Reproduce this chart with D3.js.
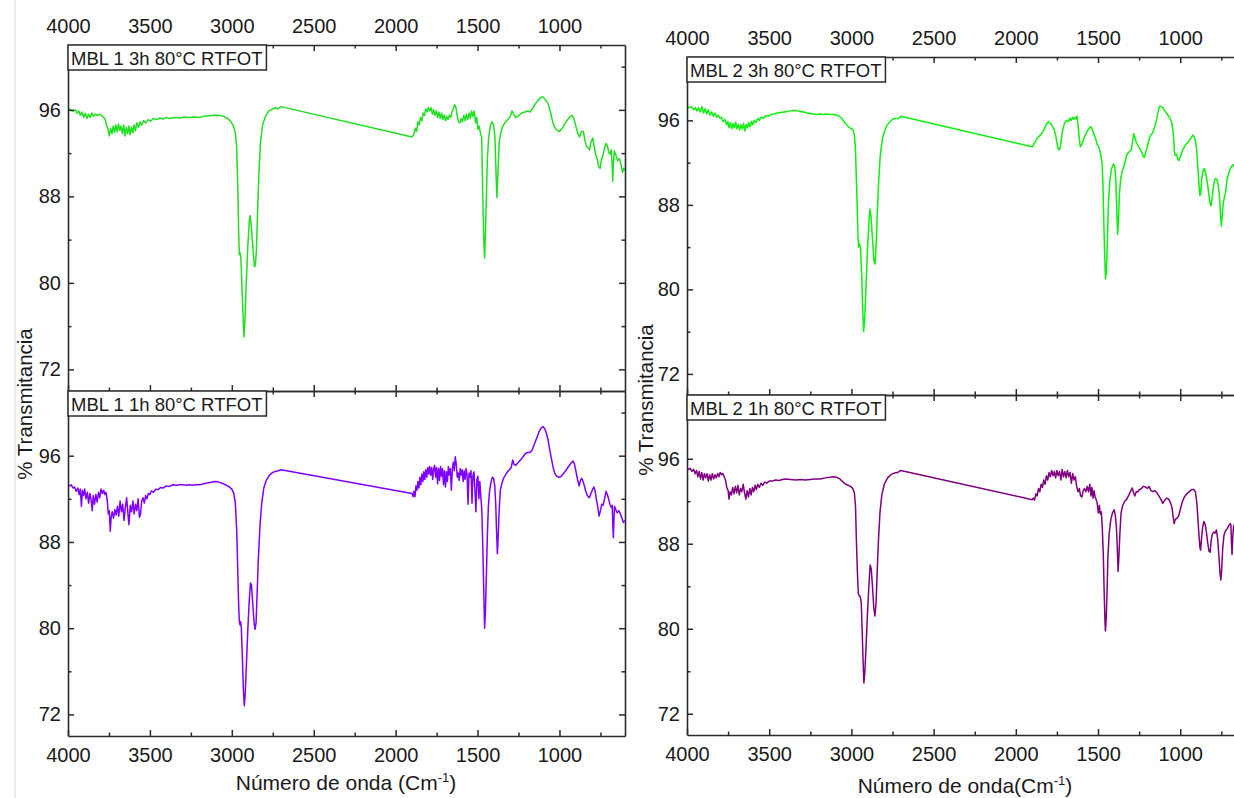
<!DOCTYPE html>
<html>
<head>
<meta charset="utf-8">
<script src="https://cdn.jsdelivr.net/npm/d3@7"></script>
<style>
  body { margin: 0; background: #fff; }
  text { font-family: "Liberation Sans", Arial, sans-serif; fill: #1a1a1a; }
</style>
</head>
<body>
<svg id="graph" width="1234" height="798"></svg>
<script>
// ---- data: [wavenumber, % transmittance] ----
const mbl1_3h = [
  [4000,96.1],[3985,96.0],[3970,95.9],[3955,96.0],[3945,95.7],[3935,95.9],[3925,95.5],[3915,95.8],[3905,95.3],[3895,95.7],
  [3885,95.2],[3875,95.6],[3865,95.3],[3855,95.7],[3845,95.4],[3835,95.6],[3820,95.5],[3805,95.6],[3790,95.4],[3775,95.2],
  [3765,94.6],[3755,94.2],[3748,93.6],[3740,94.3],[3732,93.8],[3724,94.5],[3716,93.9],[3708,94.6],[3700,94.0],[3692,94.7],
  [3684,94.1],[3676,94.5],[3668,93.8],[3660,94.6],[3652,93.6],[3644,94.4],[3636,93.8],[3628,94.5],[3620,93.7],[3612,94.4],
  [3604,93.9],[3596,94.6],[3588,94.1],[3580,94.8],[3570,94.4],[3560,94.9],[3550,94.6],[3540,95.0],[3525,94.8],[3510,95.1],
  [3495,94.95],[3480,95.2],[3460,95.1],[3440,95.25],[3420,95.15],[3400,95.3],[3380,95.2],[3350,95.3],[3320,95.25],[3290,95.35],
  [3260,95.3],[3230,95.35],[3200,95.3],[3170,95.4],[3140,95.45],[3110,95.5],[3080,95.5],[3050,95.4],[3025,95.2],[3005,94.9],
  [2990,94.5],[2978,93.8],[2970,92.5],[2964,89.0],[2958,84.5],[2954,82.6],[2950,82.8],[2945,82.4],[2940,80.5],[2933,77.5],
  [2926,75.0],[2920,76.5],[2912,80.0],[2902,83.5],[2893,85.8],[2888,86.2],[2880,85.0],[2870,83.0],[2862,81.5],[2856,81.6],
  [2850,83.0],[2843,86.5],[2835,90.0],[2825,93.0],[2812,94.6],[2795,95.4],[2775,95.9],[2750,96.1],[2730,96.2],[2720,96.1],
  [2700,96.3],[1900,93.5],[1890,93.7],[1880,94.3],[1872,94.0],[1864,94.9],[1856,94.6],[1848,95.3],[1840,95.0],[1832,95.7],
  [1824,95.5],[1816,96.1],[1808,95.8],[1800,96.2],[1792,95.9],[1784,96.2],[1776,95.6],[1768,96.0],[1760,95.5],[1752,95.9],
  [1744,95.3],[1736,95.8],[1728,95.2],[1720,95.7],[1712,95.1],[1704,95.5],[1696,95.0],[1688,95.4],[1680,95.1],[1672,95.5],
  [1664,95.3],[1656,95.8],[1648,96.1],[1640,96.5],[1632,96.2],[1624,95.4],[1616,94.9],[1608,94.8],[1600,95.2],[1592,94.9],
  [1584,95.5],[1576,95.0],[1568,95.6],[1560,95.1],[1552,95.7],[1544,95.2],[1536,95.9],[1528,95.4],[1520,95.9],[1512,94.8],
  [1505,95.3],[1498,94.2],[1490,94.5],[1482,93.8],[1475,93.5],[1468,88.0],[1462,84.0],[1457,82.3],[1452,84.5],[1446,88.0],
  [1440,91.5],[1432,93.5],[1422,94.5],[1412,94.9],[1402,94.6],[1394,93.5],[1388,90.5],[1382,87.9],[1376,90.0],[1368,93.0],
  [1358,93.9],[1345,94.5],[1330,94.9],[1315,95.1],[1300,95.4],[1290,95.9],[1280,95.6],[1268,95.3],[1255,95.4],[1240,95.6],
  [1225,95.75],[1210,95.8],[1193,95.9],[1180,95.8],[1165,96.1],[1150,96.5],[1130,96.9],[1110,97.2],[1100,97.2],[1085,96.9],
  [1070,96.6],[1055,95.8],[1040,94.8],[1030,94.4],[1015,94.1],[1000,94.0],[980,94.4],[960,94.9],[940,95.3],[923,95.5],
  [912,95.2],[900,94.5],[888,93.8],[878,93.5],[866,94.0],[854,94.0],[845,93.2],[835,92.6],[825,92.5],[817,92.3],
  [808,93.0],[797,93.4],[788,92.6],[778,91.8],[770,91.5],[762,90.8],[752,90.6],[744,91.4],[736,91.7],[726,92.4],
  [715,92.9],[706,92.6],[698,92.0],[690,91.9],[684,92.3],[679,91.2],[675,89.4],[671,91.0],[665,92.2],[655,91.8],
  [645,91.3],[634,91.5],[625,91.0],[615,90.2],[608,90.6],[600,90.4]
];

const mbl2_3h = [
  [4000,97.3],[3985,97.2],[3972,97.3],[3960,97.0],[3950,97.2],[3940,96.9],[3930,97.2],[3920,96.8],[3910,97.3],[3900,96.7],
  [3890,97.1],[3880,96.6],[3870,97.0],[3860,96.5],[3850,96.8],[3840,96.4],[3830,96.7],[3820,96.3],[3810,96.5],[3800,96.2],
  [3790,96.3],[3780,95.9],[3770,96.1],[3760,95.6],[3752,95.9],[3744,95.3],[3736,95.8],[3728,95.2],[3720,95.7],[3712,95.3],
  [3704,95.8],[3696,95.2],[3688,95.6],[3680,95.1],[3672,95.6],[3664,95.2],[3656,95.7],[3648,95.0],[3640,95.6],[3632,95.3],
  [3624,95.8],[3616,95.4],[3608,95.9],[3600,95.6],[3590,96.0],[3580,95.8],[3570,96.2],[3560,96.0],[3550,96.3],[3535,96.2],
  [3520,96.45],[3505,96.4],[3490,96.55],[3470,96.6],[3450,96.7],[3430,96.75],[3410,96.8],[3390,96.85],[3370,96.9],[3350,96.95],
  [3330,96.9],[3310,96.85],[3290,96.8],[3270,96.7],[3250,96.65],[3230,96.6],[3210,96.55],[3190,96.6],[3170,96.55],[3150,96.6],
  [3130,96.55],[3110,96.55],[3090,96.5],[3075,96.4],[3060,96.2],[3045,95.9],[3030,95.6],[3015,95.35],[3000,95.2],[2990,95.1],
  [2982,94.6],[2976,93.5],[2970,90.5],[2965,88.0],[2960,85.0],[2956,84.0],[2950,84.3],[2944,83.8],[2938,81.5],[2932,78.5],
  [2926,76.0],[2920,77.0],[2912,80.0],[2903,83.5],[2895,86.0],[2887,87.6],[2880,86.8],[2872,84.8],[2863,82.7],[2856,82.4],
  [2850,84.0],[2843,87.0],[2835,90.0],[2825,92.6],[2812,94.2],[2800,94.9],[2785,95.5],[2770,95.8],[2750,96.1],[2730,96.2],
  [2715,96.15],[2700,96.4],[1900,93.5],[1885,93.9],[1870,94.3],[1858,94.5],[1845,94.7],[1830,95.1],[1815,95.6],[1805,95.85],
  [1790,95.75],[1780,95.5],[1768,95.2],[1758,94.6],[1750,93.9],[1742,93.3],[1735,93.2],[1728,93.6],[1720,94.6],[1712,95.3],
  [1704,95.7],[1696,95.9],[1688,96.0],[1680,95.9],[1672,96.2],[1664,96.0],[1656,96.3],[1648,96.1],[1640,96.3],[1632,96.1],
  [1628,96.4],[1622,95.6],[1616,94.6],[1608,93.5],[1600,93.7],[1590,94.1],[1578,94.6],[1565,95.0],[1552,95.3],[1543,95.4],
  [1535,95.1],[1525,94.7],[1515,94.3],[1505,93.7],[1498,93.6],[1490,93.2],[1482,92.6],[1476,92.1],[1470,90.0],[1465,86.5],
  [1460,83.5],[1455,81.0],[1450,81.5],[1444,84.0],[1437,88.0],[1428,90.3],[1418,91.4],[1406,91.9],[1398,91.6],[1392,90.5],
  [1386,87.5],[1381,85.2],[1376,86.5],[1370,89.0],[1362,90.5],[1352,91.2],[1340,91.8],[1326,92.7],[1312,93.0],[1298,93.2],
  [1290,94.0],[1283,94.75],[1275,94.3],[1265,93.8],[1255,93.6],[1245,93.3],[1235,93.0],[1225,92.6],[1218,92.5],[1210,93.0],
  [1200,93.5],[1190,94.2],[1180,94.6],[1168,94.8],[1155,95.4],[1145,96.0],[1135,96.8],[1125,97.35],[1115,97.3],[1105,97.2],
  [1095,96.95],[1080,96.6],[1065,96.3],[1052,95.8],[1042,94.8],[1035,93.0],[1030,92.7],[1022,92.8],[1014,92.3],[1008,92.2],
  [998,92.6],[985,93.2],[969,93.65],[955,93.9],[940,94.2],[928,94.5],[922,94.6],[914,94.4],[908,94.1],[900,93.2],
  [893,91.5],[886,90.0],[880,88.9],[876,89.0],[870,90.3],[862,91.2],[853,91.45],[845,91.0],[836,90.2],[826,89.0],
  [818,88.1],[813,87.9],[806,88.6],[798,89.8],[790,90.4],[784,90.5],[776,90.4],[768,89.8],[760,88.5],[754,86.8],
  [750,86.0],[745,86.9],[738,88.2],[730,88.8],[724,89.2],[715,90.4],[705,91.0],[695,91.45],[685,91.7],[675,91.8],
  [668,91.3],[660,90.6],[645,90.9],[625,91.2],[600,91.0]
];

const mbl1_1h = [
  [4000,93.3],[3990,93.2],[3980,93.3],[3970,93.0],[3960,93.1],[3950,92.7],[3940,93.0],[3932,92.4],[3925,92.9],[3918,91.3],
  [3912,92.8],[3905,92.3],[3898,92.9],[3890,92.0],[3882,92.6],[3874,91.6],[3866,92.5],[3858,91.8],[3852,90.9],[3846,92.3],
  [3838,91.5],[3830,92.4],[3822,91.7],[3814,92.6],[3806,92.1],[3798,92.9],[3790,92.5],[3782,92.8],[3775,92.4],[3768,92.6],
  [3760,91.8],[3754,90.6],[3748,90.9],[3742,89.0],[3736,90.4],[3730,90.8],[3722,90.2],[3714,91.0],[3706,90.5],[3698,91.3],
  [3690,90.4],[3682,91.8],[3674,90.8],[3666,91.5],[3658,90.0],[3650,91.2],[3642,92.1],[3634,90.6],[3628,89.6],[3620,91.4],
  [3612,90.8],[3604,91.8],[3596,90.6],[3588,91.5],[3580,90.9],[3572,92.0],[3564,90.3],[3558,90.5],[3550,91.8],[3542,92.1],
  [3534,91.6],[3526,92.3],[3518,92.0],[3510,92.5],[3500,92.4],[3490,92.75],[3478,92.6],[3465,92.9],[3450,92.85],[3435,93.05],
  [3420,93.0],[3400,93.2],[3380,93.15],[3360,93.3],[3340,93.25],[3320,93.3],[3300,93.3],[3280,93.25],[3260,93.3],[3240,93.25],
  [3220,93.3],[3200,93.3],[3180,93.35],[3160,93.45],[3140,93.5],[3120,93.55],[3100,93.6],[3080,93.55],[3060,93.45],[3040,93.3],
  [3020,93.15],[3000,92.9],[2988,92.5],[2978,91.5],[2970,89.0],[2964,85.5],[2958,82.0],[2954,80.6],[2950,80.3],[2946,80.6],
  [2942,80.0],[2936,77.5],[2930,74.5],[2924,72.8],[2918,74.0],[2910,77.0],[2902,80.0],[2894,82.5],[2886,84.2],[2880,84.0],
  [2872,82.2],[2864,80.5],[2858,79.9],[2852,80.5],[2846,83.0],[2838,86.5],[2828,89.5],[2818,91.5],[2805,93.0],[2790,93.7],
  [2770,94.2],[2750,94.45],[2730,94.55],[2715,94.6],[2700,94.7],[1900,92.5],[1893,92.2],[1888,92.7],[1882,92.2],[1876,93.2],
  [1870,92.8],[1864,93.6],[1858,93.0],[1852,94.0],[1846,93.3],[1840,94.3],[1834,93.6],[1828,94.5],[1822,93.8],[1816,94.7],
  [1810,94.0],[1804,94.9],[1798,94.3],[1792,95.0],[1786,94.2],[1780,94.9],[1774,93.8],[1768,94.8],[1762,95.1],[1756,94.0],
  [1750,94.9],[1744,93.4],[1738,94.8],[1732,93.7],[1726,95.0],[1720,94.1],[1714,94.8],[1708,93.3],[1702,94.6],[1696,93.1],
  [1690,94.5],[1684,93.6],[1678,95.0],[1672,94.2],[1666,94.8],[1660,92.8],[1654,94.7],[1648,95.4],[1642,94.6],[1636,95.9],
  [1630,95.2],[1624,94.0],[1618,94.4],[1612,93.7],[1606,94.8],[1600,94.2],[1594,94.7],[1588,93.6],[1582,94.6],[1576,93.8],
  [1570,94.8],[1564,94.2],[1558,91.5],[1552,94.4],[1546,94.0],[1540,94.6],[1534,91.6],[1528,94.2],[1522,94.5],[1516,92.8],
  [1510,90.8],[1504,93.8],[1498,94.1],[1492,92.0],[1486,93.6],[1480,92.2],[1474,91.0],[1468,87.5],[1462,83.5],[1457,80.0],
  [1452,81.5],[1446,85.0],[1440,88.7],[1434,91.3],[1428,92.5],[1420,93.4],[1410,94.0],[1402,93.9],[1395,93.2],[1389,91.5],
  [1384,89.0],[1379,86.9],[1374,88.5],[1368,91.0],[1361,92.8],[1352,93.4],[1342,93.9],[1330,94.2],[1318,94.5],[1305,94.7],
  [1295,94.9],[1285,95.6],[1278,95.2],[1268,95.1],[1256,95.3],[1244,95.5],[1232,95.7],[1220,95.95],[1208,96.2],[1195,96.3],
  [1180,96.3],[1168,96.5],[1155,97.0],[1140,97.6],[1125,98.2],[1110,98.6],[1100,98.7],[1090,98.5],[1080,98.1],[1070,97.5],
  [1060,96.6],[1050,95.8],[1040,95.0],[1030,94.4],[1018,94.1],[1005,94.0],[992,94.05],[978,94.3],[962,94.6],[945,95.0],
  [930,95.3],[917,95.5],[908,95.2],[900,94.6],[890,93.8],[880,93.2],[872,93.7],[864,93.9],[856,93.6],[848,93.2],
  [840,92.7],[830,92.3],[818,92.1],[810,92.4],[800,92.8],[790,93.1],[782,92.7],[775,92.0],[766,91.2],[758,90.4],
  [750,90.9],[742,91.5],[734,91.4],[726,91.9],[716,92.7],[708,92.4],[700,92.0],[692,91.5],[684,91.2],[678,91.4],
  [674,89.5],[671,88.4],[668,89.8],[664,91.3],[656,91.0],[648,90.7],[638,90.9],[628,90.6],[618,90.2],[610,89.8],[600,90.0]
];

const mbl2_1h = [
  [4000,95.1],[3990,95.0],[3980,95.1],[3970,94.8],[3960,95.0],[3950,94.6],[3942,94.9],[3934,94.3],[3926,94.8],[3918,94.1],
  [3910,94.7],[3902,94.0],[3894,94.6],[3886,94.2],[3878,94.6],[3870,93.9],[3862,94.5],[3854,94.0],[3846,94.6],[3838,94.1],
  [3830,94.5],[3822,94.2],[3814,94.6],[3806,94.3],[3798,94.7],[3790,94.5],[3782,94.6],[3774,94.3],[3766,94.0],[3758,93.3],
  [3750,93.0],[3744,92.2],[3738,92.9],[3730,92.6],[3722,93.3],[3714,92.7],[3706,93.4],[3698,92.8],[3690,93.5],[3682,92.6],
  [3674,93.2],[3666,92.9],[3658,93.6],[3650,92.8],[3642,92.2],[3634,93.0],[3626,92.4],[3618,93.2],[3610,92.6],[3602,93.3],
  [3594,92.9],[3586,93.5],[3578,93.1],[3570,93.6],[3560,93.3],[3550,93.7],[3540,93.5],[3528,93.8],[3515,93.7],[3500,93.9],
  [3480,93.9],[3460,94.0],[3440,93.95],[3420,94.05],[3400,94.1],[3370,94.05],[3340,94.0],[3310,94.05],[3280,94.0],[3250,94.05],
  [3220,94.1],[3190,94.1],[3160,94.2],[3130,94.25],[3110,94.3],[3090,94.25],[3070,94.1],[3050,93.8],[3035,93.6],[3020,93.5],
  [3005,93.4],[2992,93.2],[2982,92.8],[2975,91.5],[2970,88.5],[2964,85.5],[2958,83.3],[2952,83.1],[2946,83.0],[2940,82.4],
  [2934,79.5],[2928,76.5],[2924,74.9],[2918,76.0],[2910,78.6],[2902,81.5],[2894,84.0],[2886,86.0],[2879,85.6],[2872,84.0],
  [2864,82.0],[2857,81.2],[2850,82.4],[2843,85.5],[2835,88.5],[2826,91.0],[2815,92.6],[2800,93.6],[2780,94.2],[2760,94.5],
  [2740,94.65],[2720,94.7],[2700,94.9],[1900,92.15],[1893,92.3],[1886,92.1],[1878,92.7],[1870,92.5],[1862,93.2],[1854,92.9],
  [1846,93.6],[1838,93.3],[1830,94.0],[1822,93.6],[1814,94.4],[1806,94.0],[1798,94.7],[1790,94.3],[1782,94.9],[1774,94.4],
  [1766,94.8],[1758,94.2],[1750,94.9],[1742,94.4],[1734,94.8],[1726,94.0],[1718,95.0],[1710,94.3],[1702,94.8],[1694,94.2],
  [1686,94.9],[1678,94.3],[1670,94.7],[1662,93.7],[1654,94.6],[1646,94.0],[1638,94.3],[1630,93.4],[1622,92.9],[1614,93.2],
  [1606,92.5],[1598,92.4],[1590,93.0],[1582,93.2],[1574,92.9],[1566,93.4],[1558,92.9],[1550,93.6],[1543,92.5],[1537,93.3],
  [1530,92.3],[1524,93.0],[1518,92.4],[1512,92.2],[1505,91.8],[1498,90.9],[1492,91.6],[1486,90.8],[1480,91.0],[1474,89.5],
  [1468,87.0],[1463,83.7],[1458,80.8],[1455,79.8],[1450,81.0],[1445,83.5],[1440,86.8],[1432,89.0],[1422,90.3],[1412,90.9],
  [1402,91.2],[1394,90.6],[1388,89.5],[1383,87.7],[1378,85.4],[1373,86.8],[1367,89.0],[1360,90.9],[1350,91.6],[1338,92.0],
  [1325,92.2],[1312,92.6],[1300,93.0],[1292,93.25],[1284,92.8],[1276,92.5],[1268,92.9],[1258,92.9],[1248,93.1],[1236,93.2],
  [1224,93.4],[1212,93.35],[1200,93.2],[1190,93.4],[1178,93.0],[1166,92.9],[1154,93.0],[1142,92.8],[1130,92.5],[1118,92.2],
  [1106,91.8],[1094,92.1],[1082,92.3],[1070,92.2],[1060,91.9],[1050,91.4],[1043,90.5],[1037,89.9],[1030,90.3],[1020,90.4],
  [1010,90.6],[1000,91.2],[988,91.9],[975,92.4],[960,92.7],[945,92.9],[930,93.1],[918,93.1],[908,92.9],[900,92.0],
  [893,90.5],[886,88.8],[880,87.6],[876,87.4],[870,88.6],[863,89.6],[856,90.1],[848,89.8],[840,89.0],[832,88.0],
  [825,87.3],[818,87.2],[812,88.3],[805,88.9],[796,89.1],[788,89.0],[780,89.3],[772,88.4],[764,86.7],[758,85.2],
  [753,84.6],[748,85.5],[742,87.5],[734,88.8],[725,89.2],[715,89.4],[705,89.7],[696,89.9],[692,89.8],[688,88.0],
  [685,87.0],[681,88.5],[676,89.6],[668,89.9],[655,90.0],[630,90.1],[600,90.0]
];

const xTicks = [4000, 3500, 3000, 2500, 2000, 1500, 1000];
const xMinor = [3750, 3250, 2750, 2250, 1750, 1250, 750];
const yTicks = [96, 88, 80, 72];
const yMinor = [100, 92, 84, 76];
const labels = ["MBL 1 3h 80°C RTFOT", "MBL 1 1h 80°C RTFOT", "MBL 2 3h 80°C RTFOT", "MBL 2 1h 80°C RTFOT"];
const colors = ["#1fe01f", "#8000ff", "#0ef00e", "#800080"];
const xTitles = ["Número de onda (Cm", "Número de onda(Cm"];
const yTitle = "% Transmitancia";

const svg = d3.select("#graph");
const axisColor = "#2b2b2b";

// faint page line at the far left
svg.append("line")
  .attr("x1", 15).attr("x2", 15).attr("y1", 0).attr("y2", 798)
  .attr("stroke", "#d6d6d6").attr("stroke-width", 1);

// panel boxes (left column / right column, top / bottom)
const panels = [
  {id: 0, x0: 68,  x1: 625,  y0: 45,  y1: 391, data: mbl1_3h, top: true},
  {id: 1, x0: 68,  x1: 625,  y0: 391, y1: 736, data: mbl1_1h, top: false},
  {id: 2, x0: 687, x1: 1246, y0: 57,  y1: 395, data: mbl2_3h, top: true},
  {id: 3, x0: 687, x1: 1246, y0: 395, y1: 735, data: mbl2_1h, top: false}
];

function styleAxis(g) {
  g.attr("font-size", null).attr("font-family", null).attr("color", axisColor);
  g.selectAll("line").attr("stroke-width", 1.5);
  g.selectAll("path").attr("stroke-width", 1.6);
  g.selectAll("text").style("font-size", "20px");
}

function drawPanel(p) {
  const x = d3.scaleLinear().domain([4000, 600]).range([p.x0, p.x1]);
  const y = d3.scaleLinear().domain([70, 102]).range([p.y1, p.y0]);

  svg.append("clipPath").attr("id", "clip" + p.id)
    .append("rect")
    .attr("x", p.x0).attr("y", p.y0)
    .attr("width", p.x1 - p.x0).attr("height", p.y1 - p.y0);

  const line = d3.line().x(d => x(d[0])).y(d => y(d[1]));

  svg.append("path")
    .datum(p.data)
    .attr("clip-path", "url(#clip" + p.id + ")")
    .attr("fill", "none")
    .attr("stroke", colors[p.id])
    .attr("stroke-width", 1.5)
    .attr("stroke-linejoin", "round")
    .attr("d", line);

  // axes on all four sides, ticks pointing in
  const sides = [
    {axis: d3.axisTop(x), tr: `translate(0,${p.y0})`, show: p.top, major: xTicks, minor: xMinor, pad: 12},
    {axis: d3.axisBottom(x), tr: `translate(0,${p.y1})`, show: !p.top, major: xTicks, minor: xMinor, pad: 11.8},
    {axis: d3.axisLeft(y), tr: `translate(${p.x0},0)`, show: true, major: yTicks, minor: yMinor, pad: 7},
    {axis: d3.axisRight(y), tr: `translate(${p.x1},0)`, show: false, major: yTicks, minor: yMinor, pad: 7}
  ];

  sides.forEach(s => {
    const g = svg.append("g").attr("transform", s.tr)
      .call(s.axis.tickValues(s.major).tickSizeInner(-6).tickSizeOuter(0)
        .tickPadding(s.pad).tickFormat(s.show ? d3.format("d") : ""));
    styleAxis(g);

    const gm = svg.append("g").attr("transform", s.tr)
      .call(s.axis.tickValues(s.minor).tickSizeInner(-3.5).tickSizeOuter(0).tickFormat(""));
    styleAxis(gm);
    gm.select(".domain").remove();
  });

  // sample label box in the corner
  const lab = svg.append("g");
  const box = lab.append("rect")
    .attr("x", p.x0).attr("y", p.y0)
    .attr("height", 25)
    .attr("fill", "#fff")
    .attr("stroke", axisColor)
    .attr("stroke-width", 1.5);
  const t = lab.append("text")
    .attr("x", p.x0 + 3)
    .attr("y", p.y0 + 19.5)
    .style("font-size", "18.5px")
    .text(labels[p.id]);
  box.attr("width", t.node().getComputedTextLength() + 7);
}

panels.forEach(drawPanel);

// axis titles
[[32, 404], [653, 400]].forEach(pos => {
  svg.append("text")
    .attr("transform", `translate(${pos[0]},${pos[1]}) rotate(-90)`)
    .attr("text-anchor", "middle")
    .style("font-size", "20.5px")
    .text(yTitle);
});

[[346, 790, 0], [965, 792.5, 1]].forEach(pos => {
  const t = svg.append("text")
    .attr("x", pos[0]).attr("y", pos[1])
    .attr("text-anchor", "middle")
    .style("font-size", "21px");
  t.append("tspan").text(xTitles[pos[2]]);
  t.append("tspan").attr("dy", -8).style("font-size", "13px").text("-1");
  t.append("tspan").attr("dy", 8).text(")");
});
</script>
</body>
</html>
